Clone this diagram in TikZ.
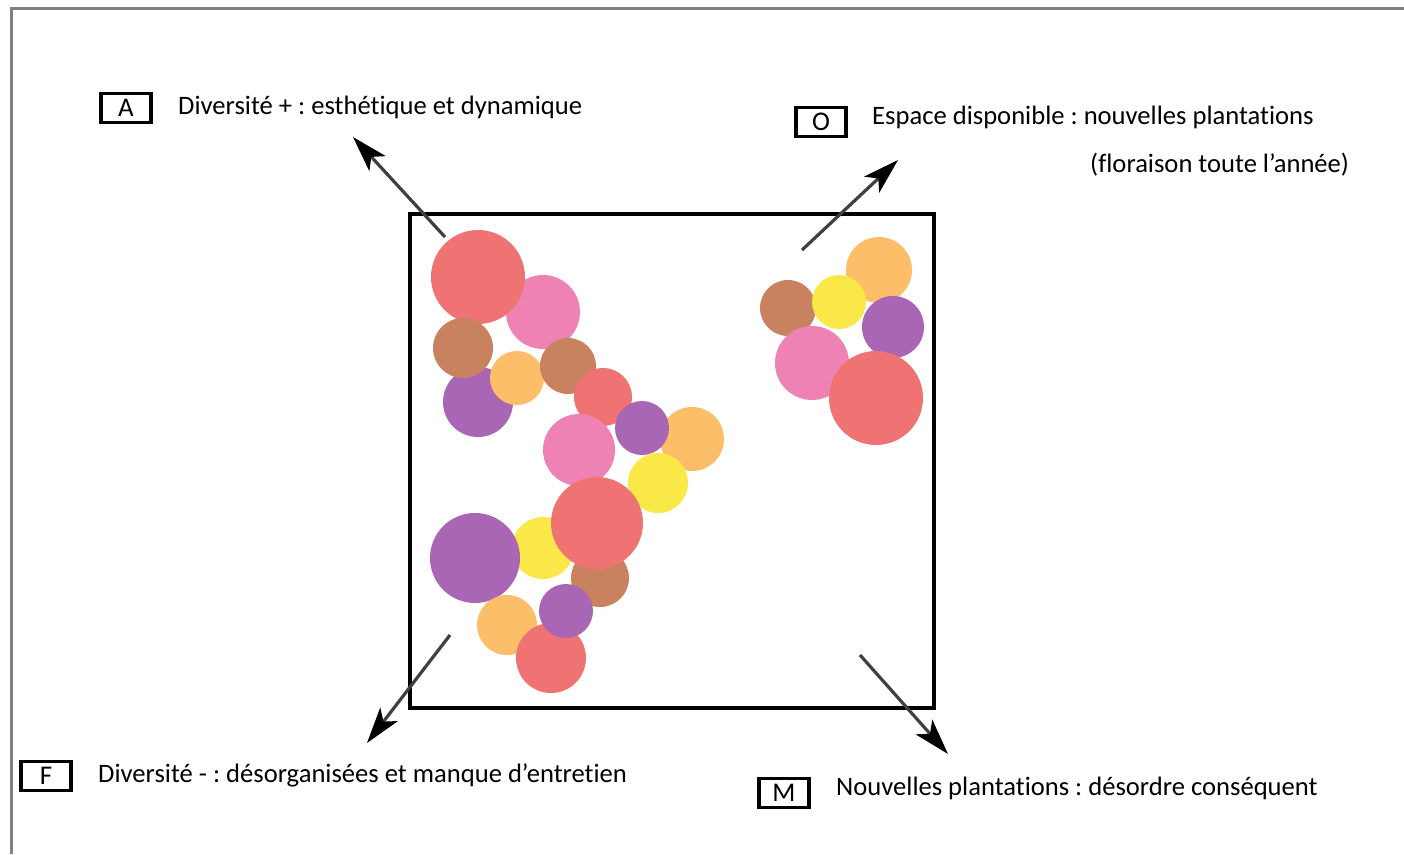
\documentclass[tikz,border=0pt]{standalone}
\usepackage{fontspec}
\setmainfont[Ligatures=NoCommon]{Carlito}
\frenchspacing
\usetikzlibrary{arrows.meta,positioning}
\definecolor{fred}{RGB}{240,115,115}
\definecolor{fpink}{RGB}{238,130,180}
\definecolor{fbrown}{RGB}{200,130,95}
\definecolor{fpurple}{RGB}{168,102,180}
\definecolor{forange}{RGB}{253,190,105}
\definecolor{fyellow}{RGB}{250,232,72}
\tikzset{
  keybox/.style={draw,line width=3.6pt,minimum width=50pt,minimum height=29pt,inner sep=0pt,font=\fontsize{27}{27}\selectfont},
  lbl/.style={anchor=west,inner sep=0pt,font=\fontsize{26.6}{27}\selectfont},
  arr/.style={draw=black!75,line width=3.2pt,-{Stealth[length=36pt,width=22pt,inset=9pt,black]}}
}
\begin{document}
\begin{tikzpicture}[x=1pt,y=-1pt]
    \useasboundingbox (0,0) rectangle (1404,854);
    \fill[white] (0,0) rectangle (1404,854);
    \draw[black!50,line width=3pt] (11,854)--(11,8)--(1404,8);
    % flower clusters
    \foreach \x/\y/\r/\c in {543/312/37/fpink, 478/277/47/fred, 478/402/35/fpurple, 463/348/30/fbrown,
        517/378/27/forange, 568/366/28/fbrown, 603/397/29/fred, 692/439/32/forange, 642/428/27/fpurple,
        579/450/36/fpink, 658/483/30/fyellow, 543/548/31/fyellow, 600/578/29/fbrown, 597/523/46/fred,
        475/558/45/fpurple, 507/625/30/forange, 551/658/35/fred, 566/611/27/fpurple,
        879/270/33/forange, 788/308/28/fbrown, 839/302/27/fyellow, 893/327/31/fpurple,
        812/363/37/fpink, 876/398/47/fred}{
        \fill[\c] (\x,\y) circle (\r);
    }
    \draw[line width=4pt] (410,214) rectangle (934,708);
    % legend
    \node[keybox] (boxA) at (126,108) {A};
    \node[keybox] (boxO) at (821,122) {O};
    \node[keybox] (boxF) at (46,776) {F};
    \node[keybox] (boxM) at (784,793) {M};
    \node[lbl] (txtA) at (178,107) {Diversité + : esthétique et dynamique};
    \node[lbl] (txtO) at (872,117) {Espace disponible : nouvelles plantations};
    \node[lbl] (txtO2) at (1090,165) {(floraison toute l’année)};
    \node[lbl] (txtF) at (98,775) {Diversité - : désorganisées et manque d’entretien};
    \node[lbl] (txtM) at (836,788) {Nouvelles plantations : désordre conséquent};
    % arrows
    \coordinate (a0) at (445,237); \coordinate (a1) at (353,137);
    \coordinate (o0) at (802,250); \coordinate (o1) at (898,160);
    \coordinate (f0) at (450,635); \coordinate (f1) at (367,743);
    \coordinate (m0) at (860,655); \coordinate (m1) at (948,754);
    \draw[arr] (a0)--(a1);
    \draw[arr] (o0)--(o1);
    \draw[arr] (f0)--(f1);
    \draw[arr] (m0)--(m1);
\end{tikzpicture}
\end{document}
